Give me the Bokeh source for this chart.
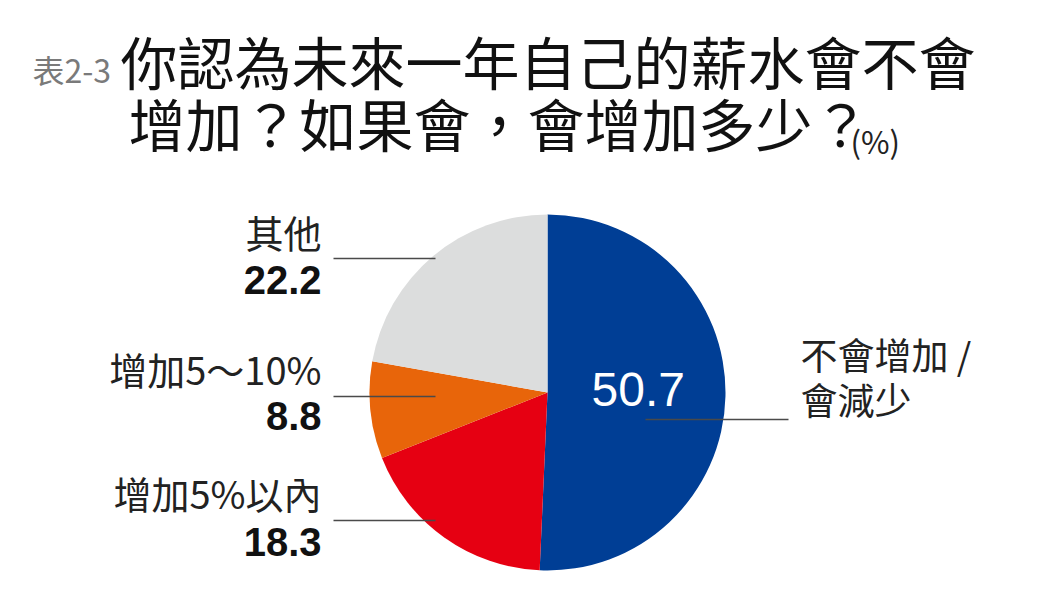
import math
from bokeh.plotting import figure
from bokeh.models import Range1d
from bokeh.core.properties import value
from bokeh.embed import file_html
from bokeh.resources import INLINE

# ---- data (clockwise from 12 o'clock) ----
categories = ["不會增加 /\n會減少", "增加5%以內", "增加5〜10%", "其他"]
shares = [50.7, 18.3, 8.8, 22.2]
colors = ["#003e95", "#e60012", "#e8650a", "#dcdddd"]
title_prefix = "表2-3"
title_line1 = "你認為未來一年自己的薪水會不會"
title_line2 = "增加？如果會，會增加多少？"
unit_label = "(%)"

W, H = 1044, 580
CJK = "Noto Sans CJK TC"


def X(px):
    return px


def Y(py):
    return 580 - py


p = figure(width=W, height=H, output_backend="svg", toolbar_location=None,
           x_range=Range1d(0, W), y_range=Range1d(0, H), min_border=0)
p.axis.visible = False
p.grid.visible = False
p.outline_line_color = None
p.background_fill_color = "white"
p.border_fill_color = "white"

# ---- pie ----
cx, cy, r = X(547), Y(392), 178
total = sum(shares)
starts, ends = [], []
cum = 0.0
for s in shares:
    a0 = math.pi / 2 - 2 * math.pi * (cum + s) / total
    a1 = math.pi / 2 - 2 * math.pi * cum / total
    starts.append(a0)
    ends.append(a1)
    cum += s
p.wedge(x=[cx] * len(shares), y=[cy] * len(shares), radius=r,
        start_angle=starts, end_angle=ends, fill_color=colors,
        line_color=None)

# ---- leader lines ----
lead = "#4a4a4a"
p.segment(x0=[X(645), X(333), X(333), X(333)],
          y0=[Y(419), Y(520), Y(396), Y(258)],
          x1=[X(788), X(435), X(435), X(435)],
          y1=[Y(419), Y(520), Y(396), Y(258)],
          line_color=lead, line_width=1.5)

# ---- left labels ----
left_names = [categories[3], categories[2], categories[1]]
left_vals = [shares[3], shares[2], shares[1]]
name_y = [Y(231), Y(368), Y(492)]
val_y = [Y(279), Y(415), Y(541)]
p.text(x=[X(321)] * 3, y=name_y, text=left_names,
       text_font=value(CJK), text_font_size=value("38px"),
       text_align="right", text_baseline="middle", text_color="#222222")
p.text(x=[X(321)] * 3, y=val_y, text=[f"{v:.1f}" for v in left_vals],
       text_font=value("Liberation Sans"), text_font_style="bold",
       text_font_size=value("40px"), text_align="right",
       text_baseline="middle", text_color="#111111")

# ---- right label ----
rl = categories[0].split("\n")
p.text(x=[X(800), X(800)], y=[Y(353), Y(398)], text=rl,
       text_font=value(CJK), text_font_size=value("37px"),
       text_align="left", text_baseline="middle", text_color="#222222")
p.text(x=[X(591)], y=[Y(389)], text=[f"{shares[0]:.1f}"],
       text_font=value("Liberation Sans"), text_font_size=value("48px"),
       text_align="left", text_baseline="middle", text_color="white")

# ---- title ----
p.text(x=[X(32)], y=[Y(68)], text=[title_prefix],
       text_font=value(CJK), text_font_size=value("32px"),
       text_align="left", text_baseline="middle", text_color="#7a7a7a")
p.text(x=[X(120), X(128)], y=[Y(59), Y(121)], text=[title_line1, title_line2],
       text_font=value(CJK), text_font_size=value("57px"),
       text_align="left", text_baseline="middle", text_color="#111111")
p.text(x=[X(850)], y=[Y(140)], text=[unit_label],
       text_font=value(CJK), text_font_size=value("31px"),
       text_align="left", text_baseline="middle", text_color="#222222")

open("out.html", "w").write(file_html(p, INLINE))
